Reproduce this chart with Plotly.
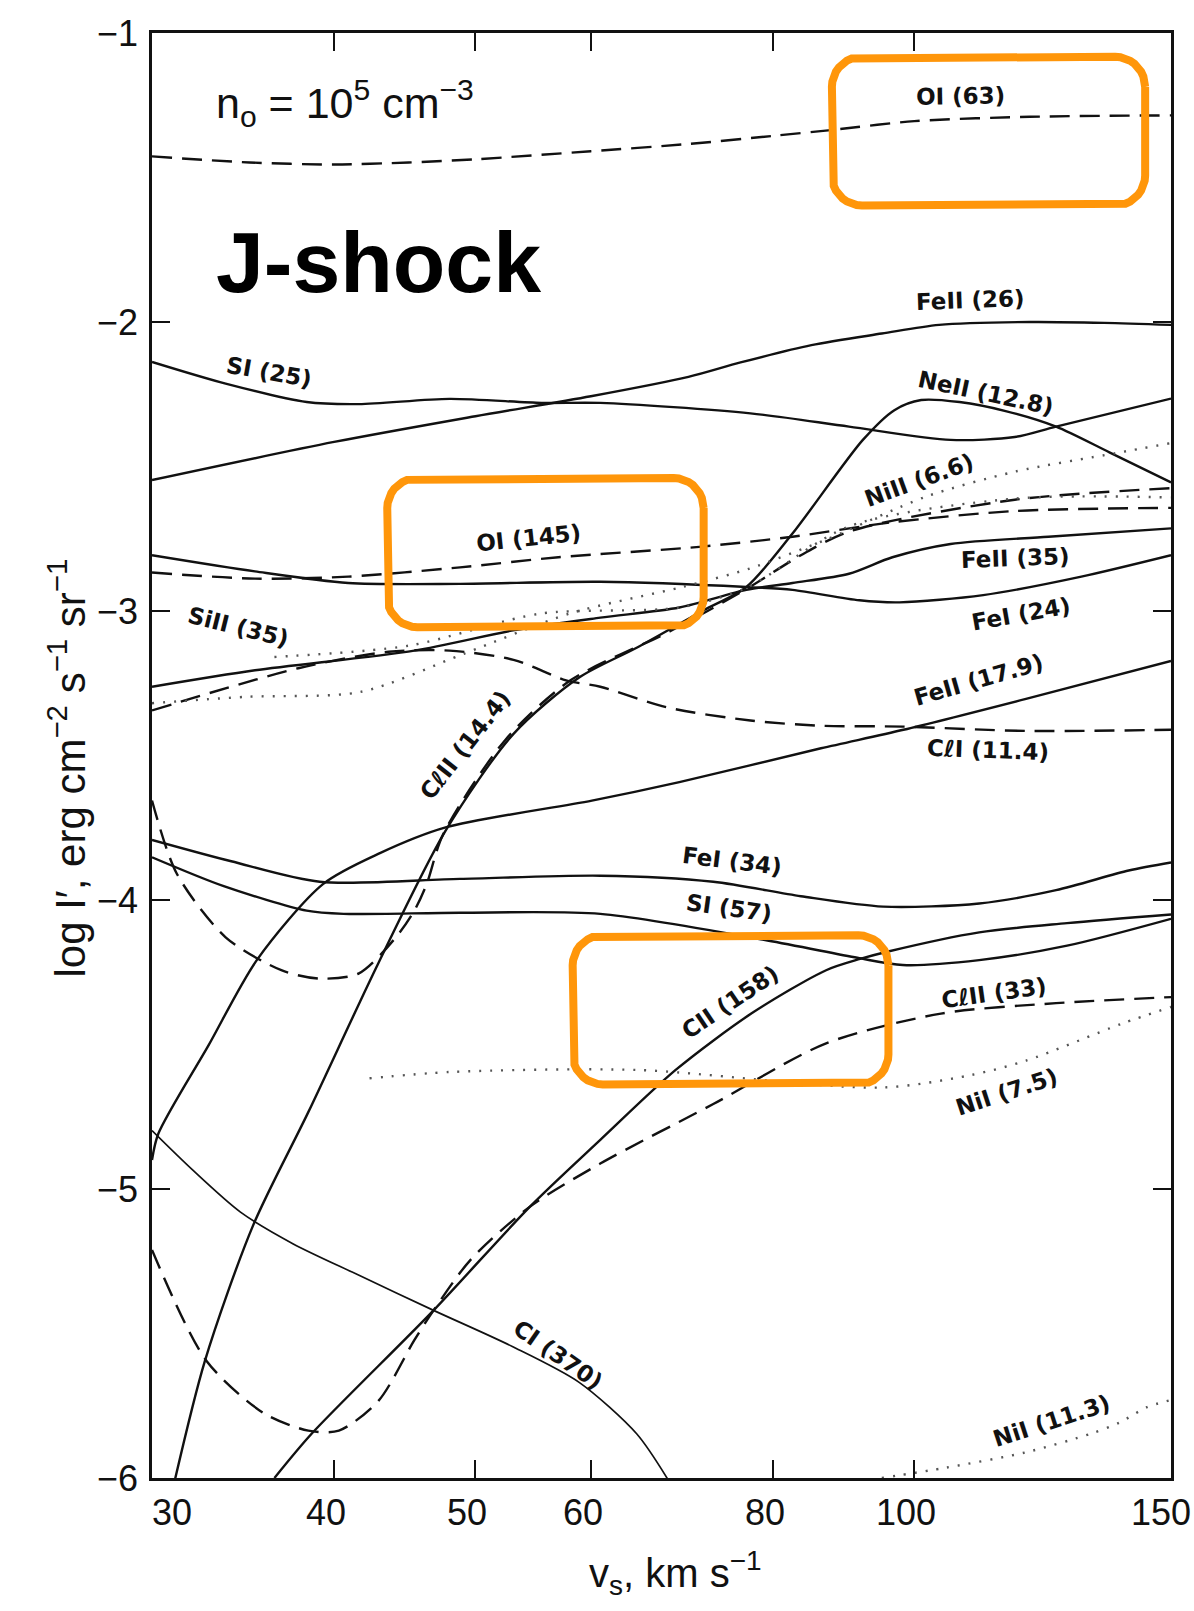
import numpy as np
import plotly.graph_objects as go

# ---------------- data (v_s in km/s, log I') ----------------
OI63_v = [30, 35, 40, 45, 50, 60, 70, 80, 88, 100, 120, 150]
OI63_I = [-1.427, -1.448, -1.455, -1.448, -1.437, -1.409, -1.384, -1.356, -1.335, -1.305, -1.29, -1.285]

FeII26_v = [30, 40, 50, 60, 70, 76, 85, 95, 104, 120, 135, 150]
FeII26_I = [-2.547, -2.415, -2.326, -2.257, -2.19, -2.14, -2.08, -2.04, -2.01, -2.0, -2.003, -2.01]

SI25_v = [30, 33.7, 38.3, 41.6, 48, 55.5, 60.9, 77.2, 90.2, 105.9, 117.2, 125.1, 150]
SI25_I = [-2.138, -2.213, -2.277, -2.284, -2.266, -2.28, -2.28, -2.316, -2.362, -2.408, -2.398, -2.362, -2.265]

NeII_v = [30.8, 32.6, 35.2, 38.4, 42.9, 47.7, 53.1, 58.9, 64.5, 71.6, 76.7, 82.5, 92.2, 96.9, 101.1, 107.4, 115.7, 125.1, 136.1, 150]
NeII_I = [-6.1, -5.598, -5.125, -4.734, -4.218, -3.76, -3.425, -3.23, -3.127, -2.999, -2.917, -2.732, -2.408, -2.305, -2.27, -2.277, -2.309, -2.362, -2.451, -2.555]

OI145_v = [30, 35.3, 40.9, 48.8, 57, 71.2, 82.5, 96.6, 117.2, 150]
OI145_I = [-2.867, -2.888, -2.881, -2.849, -2.814, -2.778, -2.743, -2.693, -2.654, -2.643]

FeI24_v = [30, 35.3, 40.9, 48.8, 60.9, 76.7, 82.5, 91.7, 97.7, 111.5, 130.2, 150]
FeI24_I = [-2.807, -2.863, -2.903, -2.906, -2.899, -2.917, -2.927, -2.963, -2.970, -2.945, -2.881, -2.807]

SiII35_v = [30, 35.3, 45.4, 53.2, 60.9, 69, 76.7, 82.5, 90.2, 96.6, 105.9, 123.6, 150]
SiII35_I = [-3.262, -3.205, -3.137, -3.066, -3.023, -2.988, -2.927, -2.903, -2.871, -2.814, -2.768, -2.743, -2.714]

ClI114_v = [30, 37.8, 43.6, 48, 53.1, 57.7, 60.9, 67.6, 77.2, 86.3, 98.2, 119.3, 150]
ClI114_I = [-3.344, -3.198, -3.141, -3.137, -3.169, -3.24, -3.262, -3.333, -3.379, -3.397, -3.40, -3.415, -3.411]

FeII179_v = [30, 30.3, 32.8, 35.4, 39.3, 43, 47.7, 60.1, 69, 86.3, 98.3, 119.3, 150]
FeII179_I = [-4.90, -4.809, -4.503, -4.208, -3.945, -3.838, -3.749, -3.656, -3.592, -3.475, -3.411, -3.304, -3.173]

FeI34_v = [30, 34, 39.1, 48.8, 60.9, 72.8, 83.6, 95.2, 110.8, 125.1, 140.3, 150]
FeI34_I = [-3.792, -3.866, -3.937, -3.927, -3.916, -3.937, -3.987, -4.023, -4.012, -3.966, -3.898, -3.87]

SI57_v = [30, 33.6, 38.3, 40.6, 48.8, 60.9, 79.3, 91.4, 98.2, 110.8, 127.3, 150]
SI57_I = [-3.852, -3.952, -4.037, -4.048, -4.044, -4.048, -4.14, -4.20, -4.225, -4.208, -4.158, -4.065]

CII158_v = [36.4, 38.6, 46.8, 54.5, 60.9, 68.6, 77.3, 87, 91.8, 95.8, 110.8, 127.3, 150]
CII158_I = [-6.0, -5.847, -5.42, -5.061, -4.83, -4.588, -4.393, -4.243, -4.204, -4.179, -4.112, -4.08, -4.05]

ClII33_v = [30, 32.7, 35.8, 38.4, 40.3, 42.9, 45.4, 46.8, 49.6, 54.5, 60.9, 72.8, 87, 104.3, 125.1, 150]
ClII33_I = [-5.211, -5.595, -5.776, -5.836, -5.836, -5.733, -5.523, -5.42, -5.246, -5.061, -4.912, -4.706, -4.496, -4.393, -4.357, -4.336]

ClII144_v = [30, 31.2, 33.7, 36.8, 39.1, 41.6, 44.1, 45.4, 46.3, 47.5, 52.4, 58.1, 68, 76.7, 83.6, 90.2, 117.2, 150]
ClII144_I = [-3.656, -3.909, -4.129, -4.243, -4.272, -4.254, -4.129, -4.037, -3.944, -3.774, -3.447, -3.24, -3.07, -2.924, -2.807, -2.725, -2.615, -2.575]

NiII66_v = [30, 34.8, 41.7, 49.1, 58, 69.3, 77.1, 87, 101.9, 117.2, 137.4, 150]
NiII66_I = [-3.319, -3.297, -3.28, -3.148, -3.009, -2.917, -2.853, -2.753, -2.604, -2.518, -2.454, -2.419]

Dot2_v = [36.4, 45, 55.4, 69, 76.7, 90.2, 117.2, 150]
Dot2_I = [-3.159, -3.12, -3.009, -2.988, -2.92, -2.707, -2.611, -2.607]

NiI75_v = [42.3, 48.1, 64.5, 94.9, 109.3, 119.3, 138.8, 150]
NiI75_I = [-4.617, -4.595, -4.588, -4.649, -4.606, -4.556, -4.428, -4.37]

NiI113_v = [95, 105.2, 119.3, 132.1, 138.3, 144.4, 150]
NiI113_I = [-6.0, -5.964, -5.911, -5.847, -5.808, -5.755, -5.73]

CI370_v = [30, 32, 34.5, 37.5, 41.5, 46.8, 53, 58.9, 64.5, 67.8]
CI370_I = [-4.798, -4.935, -5.08, -5.19, -5.296, -5.42, -5.545, -5.669, -5.847, -6.007]

# line labels: text, v, log I', angle
LABELS = [
    ("OI (63)", 107.6, -1.217, -1),
    ("FeII (26)", 109.3, -1.925, -2),
    ("SI (25)", 36.1, -2.174, 10),
    ("NeII (12.8)", 112.0, -2.245, 12),
    ("NiII (6.6)", 100.8, -2.547, -20),
    ("OI (145)", 54.4, -2.746, -6),
    ("FeII (35)", 117.4, -2.817, -2),
    ("FeI (24)", 118.4, -3.009, -10),
    ("SiII (35)", 34.4, -3.055, 14),
    ("FeII (17.9)", 110.6, -3.240, -16),
    ("CℓI (11.4)", 112.4, -3.482, 2),
    ("CℓII (14.4)", 49.2, -3.464, -52),
    ("FeI (34)", 75.0, -3.866, 7),
    ("SI (57)", 74.6, -4.026, 8),
    ("CII (158)", 74.8, -4.354, -34),
    ("CℓII (33)", 113.5, -4.321, -8),
    ("NiI (7.5)", 115.7, -4.666, -18),
    ("CI (370)", 57.0, -5.573, 35),
    ("NiI (11.3)", 124.2, -5.804, -18),
]

XTICKS = [30, 40, 50, 60, 80, 100, 150]
YTICKS = [-6, -5, -4, -3, -2, -1]

# highlighted regions: v0, v1, logI top, logI bottom
BOXES = [(87.8, 144.0, -1.082, -1.597),
         (43.5, 71.7, -2.540, -3.056),
         (58.3, 96.0, -4.122, -4.638)]

# ---------------- figure ----------------
SOLID = dict(color="#111111", width=2.4)
DASH = dict(color="#111111", width=2.4, dash="20px,10px")
DOT = dict(color="#555555", width=2.4, dash="2px,9px")
THIN = dict(color="#111111", width=1.7)

curves = [
    (OI63_v, OI63_I, DASH), (FeII26_v, FeII26_I, SOLID), (SI25_v, SI25_I, SOLID),
    (NeII_v, NeII_I, SOLID), (OI145_v, OI145_I, DASH), (FeI24_v, FeI24_I, SOLID),
    (SiII35_v, SiII35_I, SOLID), (ClI114_v, ClI114_I, DASH), (FeII179_v, FeII179_I, SOLID),
    (FeI34_v, FeI34_I, SOLID), (SI57_v, SI57_I, SOLID), (CII158_v, CII158_I, SOLID),
    (ClII33_v, ClII33_I, DASH), (ClII144_v, ClII144_I, DASH), (NiII66_v, NiII66_I, DOT),
    (Dot2_v, Dot2_I, DOT), (NiI75_v, NiI75_I, DOT), (NiI113_v, NiI113_I, DOT),
    (CI370_v, CI370_I, THIN),
]

fig = go.Figure()
for v, I, st in curves:
    fig.add_trace(go.Scatter(x=v, y=I, mode="lines", line=dict(shape="spline", smoothing=0.8, **st),
                             hoverinfo="skip", showlegend=False))

# rounded orange boxes (built in log-x space)
def rounded_box(v0, v1, ytop, ybot, rx=0.0206, ry=0.104, n=10):
    x0, x1 = np.log10(v0), np.log10(v1)
    xs, ys = [], []
    corners = [(x1 - rx, ytop - ry, 0), (x0 + rx, ytop - ry, 90), (x0 + rx, ybot + ry, 180), (x1 - rx, ybot + ry, 270)]
    for cx, cy, a0 in corners:
        for t in np.linspace(np.radians(a0), np.radians(a0 + 90), n):
            xs.append(cx + rx * np.cos(t))
            ys.append(cy + ry * np.sin(t))
    xs.append(xs[0]); ys.append(ys[0])
    return 10 ** np.array(xs), np.array(ys)

for b in BOXES:
    bx, by = rounded_box(*b)
    fig.add_trace(go.Scatter(x=bx, y=by, mode="lines", line=dict(color="rgb(255,150,10)", width=8),
                             hoverinfo="skip", showlegend=False))

ann = []
for txt, v, I, ang in LABELS:
    ann.append(dict(x=np.log10(v), y=I, xref="x", yref="y", text=txt, showarrow=False,
                    textangle=ang, xanchor="center", yanchor="middle",
                    font=dict(family="DejaVu Sans", size=23, color="#111", weight="bold")))

for t in XTICKS:
    d = dict(x=np.log10(t), y=-0.0242, xref="x", yref="paper", text=str(t), showarrow=False,
             yanchor="middle", font=dict(family="Liberation Sans", size=36, color="#111"))
    if t == XTICKS[0]:
        d.update(xanchor="left", xshift=-2)
    elif t == XTICKS[-1]:
        d.update(xanchor="right", xshift=22)
    else:
        d.update(xanchor="center", xshift=-8)
    ann.append(d)

ann.append(dict(x=np.log10(33.1), y=-1.242, xref="x", yref="y", xanchor="left", yanchor="middle",
                text="n<sub>o</sub> = 10<sup>5</sup> cm<sup>−3</sup>", showarrow=False,
                font=dict(family="Liberation Sans", size=43, color="#111")))
ann.append(dict(x=np.log10(33.1), y=-1.793, xref="x", yref="y", xanchor="left", yanchor="middle",
                text="<b>J-shock</b>", showarrow=False,
                font=dict(family="Liberation Sans", size=86, color="#000")))
ann.append(dict(x=-0.0834, y=0.491, xref="paper", yref="paper", textangle=-90, showarrow=False,
                xanchor="center", yanchor="middle",
                text="log I′, erg cm<sup>−2</sup> s<sup>−1</sup> sr<sup>−1</sup>",
                font=dict(family="Liberation Sans", size=42, color="#111")))
ann.append(dict(x=0.514, y=-0.066, xref="paper", yref="paper", showarrow=False,
                xanchor="center", yanchor="middle",
                text="v<sub>s</sub>, km s<sup>−1</sup>",
                font=dict(family="Liberation Sans", size=40, color="#111")))

fig.update_layout(
    width=1194, height=1611,
    margin=dict(l=152, r=23, t=33, b=133),
    paper_bgcolor="white", plot_bgcolor="white",
    annotations=ann,
    xaxis=dict(type="log", range=[np.log10(30), np.log10(150)], tickvals=XTICKS,
               showticklabels=False, ticks="inside", ticklen=18, tickwidth=2, tickcolor="#111",
               showline=True, linecolor="#111", linewidth=2.5, mirror="ticks",
               showgrid=False, zeroline=False),
    yaxis=dict(range=[-6, -1], tickvals=YTICKS, ticks="inside", ticklen=18, tickwidth=2,
               tickcolor="#111", showline=True, linecolor="#111", linewidth=2.5, mirror="ticks",
               showgrid=False, zeroline=False, ticklabelstandoff=4,
               tickfont=dict(family="Liberation Sans", size=36, color="#111")),
)

fig.write_html("out.html")
